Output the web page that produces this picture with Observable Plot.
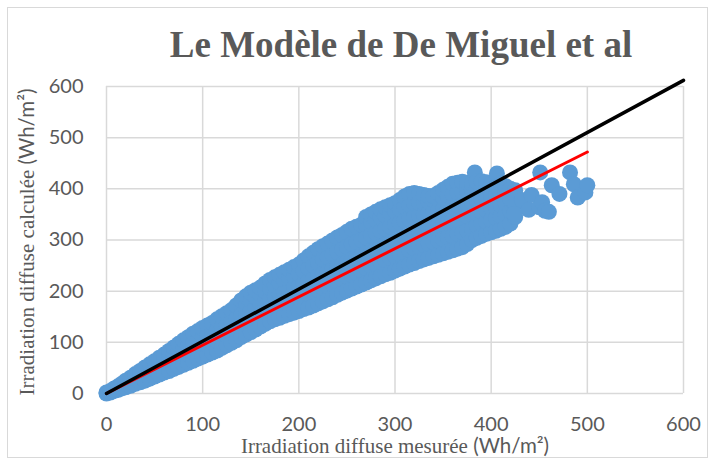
<!DOCTYPE html>
<html>
<head>
<meta charset="utf-8">
<script src="https://cdn.jsdelivr.net/npm/d3@7"></script>
<script src="https://cdn.jsdelivr.net/npm/@observablehq/plot@0.6"></script>
<style>
  html, body { margin: 0; padding: 0; background: #fff; }
  #wrap { position: relative; width: 708px; height: 458px; overflow: hidden; }
  #border { position: absolute; left: 7px; top: 7px; width: 699px; height: 449px; border: 1px solid #d9d9d9; pointer-events: none; }
</style>
</head>
<body>
<div id="wrap"><div id="border"></div></div>
<script>
const chartTitle = "Le Modèle de De Miguel et al";
const xTitleWords = "Irradiation diffuse mesurée ";
const yTitleWords = "Irradiation diffuse calculée ";
const unitText = "(Wh/m²)";
const xTicks = [0, 100, 200, 300, 400, 500, 600];
const yTicks = [0, 100, 200, 300, 400, 500, 600];

const scatter = [
  [0,0],[0,2],[4,2],[4,5],[8,5],[8,10],[12,7],[12,14],[16,10],[16,19],
  [20,12],[20,18],[20,25],[25,15],[25,23],[25,31],[30,19],[30,28],[30,38],
  [35,22],[35,33],[35,44],[40,25],[40,37],[40,51],[45,29],[45,42],[45,57],
  [50,33],[50,47],[50,63],[55,37],[55,52],[55,59],[55,70],[60,41],[60,55],[60,66],[60,76],
  [65,44],[65,58],[65,70],[65,83],[70,48],[70,62],[70,76],[70,90],[75,52],[75,67],[75,82],[75,97],
  [80,56],[80,71],[80,88],[80,104],[85,60],[85,76],[85,93],[85,110],[90,64],[90,81],[90,99],[90,117],
  [95,68],[95,86],[95,104],[95,122],[100,72],[100,90],[100,110],[100,128],[105,76],[105,94],[105,114],[105,133],
  [110,80],[110,99],[110,119],[110,138],[115,84],[115,103],[115,124],[115,145],[120,89],[120,108],[120,129],[120,151],
  [125,94],[125,113],[125,134],[125,157],[130,99],[130,118],[130,140],[130,163],[135,104],[135,124],[135,147],[135,172],
  [140,110],[140,130],[140,153],[140,182],[145,115],[145,135],[145,158],[145,177],[145,190],
  [150,120],[150,140],[150,162],[150,182],[150,197],[155,125],[155,146],[155,168],[155,188],[155,202],
  [160,131],[160,152],[160,175],[160,195],[160,207],[165,136],[165,158],[165,180],[165,200],[165,215],
  [170,141],[170,162],[170,185],[170,206],[170,222],[175,145],[175,167],[175,190],[175,212],[175,227],
  [180,148],[180,170],[180,194],[180,216],[180,232],[185,152],[185,175],[185,198],[185,221],[185,237],
  [190,155],[190,178],[190,202],[190,226],[190,242],[195,158],[195,182],[195,207],[195,230],[195,247],
  [200,161],[200,186],[200,210],[200,234],[200,252],[205,165],[205,190],[205,215],[205,240],[205,260],
  [210,168],[210,194],[210,220],[210,245],[210,268],[215,172],[215,198],[215,224],[215,250],[215,275],
  [220,176],[220,202],[220,230],[220,256],[220,282],[225,180],[225,206],[225,234],[225,262],[225,288],
  [230,184],[230,210],[230,238],[230,266],[230,293],[235,188],[235,214],[235,243],[235,272],[235,299],
  [240,193],[240,219],[240,248],[240,277],[240,305],[245,197],[245,224],[245,252],[245,282],[245,310],
  [250,201],[250,229],[250,257],[250,287],[250,316],[255,205],[255,232],[255,262],[255,292],[255,322],
  [260,209],[260,236],[260,266],[260,296],[260,326],[265,213],[265,240],[265,270],[265,300],[265,330],
  [270,217],[270,245],[270,275],[270,305],[270,330],[270,345],[275,221],[275,249],[275,279],[275,310],[275,335],[275,350],
  [280,225],[280,253],[280,283],[280,314],[280,340],[280,355],[285,229],[285,257],[285,287],[285,318],[285,345],[285,360],
  [290,233],[290,261],[290,291],[290,322],[290,348],[290,364],[295,236],[295,265],[295,295],[295,326],[295,352],[295,368],
  [300,240],[300,268],[300,298],[300,330],[300,356],[300,372],[305,244],[305,272],[305,302],[305,334],[305,360],[305,378],
  [310,248],[310,276],[310,306],[310,338],[310,365],[310,385],[315,252],[315,280],[315,310],[315,342],[315,368],[315,390],
  [320,255],[320,283],[320,313],[320,345],[320,372],[320,392],[325,259],[325,287],[325,317],[325,348],[325,372],[325,390],
  [330,262],[330,290],[330,320],[330,350],[330,372],[330,388],[335,265],[335,293],[335,323],[335,353],[335,375],[335,386],
  [340,268],[340,296],[340,326],[340,356],[340,378],[340,386],[345,271],[345,299],[345,329],[345,358],[345,380],[345,392],
  [350,274],[350,302],[350,332],[350,360],[350,383],[350,398],[355,277],[355,305],[355,335],[355,362],[355,387],[355,404],
  [360,280],[360,308],[360,338],[360,365],[360,390],[360,410],[365,283],[365,312],[365,340],[365,368],[365,393],[365,412],
  [370,286],[370,315],[370,343],[370,370],[370,395],[370,414],[375,292],[375,318],[375,346],[375,372],[375,396],[375,412],
  [380,300],[380,322],[380,349],[380,375],[380,398],[380,410],[383,432],
  [385,304],[385,328],[385,352],[385,378],[385,400],[385,414],[390,308],[390,332],[390,355],[390,380],[390,402],[390,415],
  [395,312],[395,336],[395,358],[395,383],[395,405],[395,413],[400,315],[400,340],[400,362],[400,386],[400,408],[406,430],
  [405,318],[405,343],[405,365],[405,388],[405,405],[410,322],[410,346],[410,368],[410,390],[410,410],
  [415,326],[415,350],[415,372],[415,394],[415,405],[420,332],[420,356],[420,380],[420,400],[425,345],[425,370],[425,397],
  [432,378],[439,359],[424,351],[442,388],[450,364],[453,374],[456,357],[460,355],[451,432],[463,407],
  [471,390],[482,432],[486,409],[490,383],[498,393],[500,407]
];

// fitted line (red) and reference line (black)
const fitX = [0, 500];
const fitY = [0, 472];
const refX = [0, 600];
const refY = [0, 612];

const fit = fitX.map((x, i) => ({x, y: fitY[i]}));
const ref = refX.map((x, i) => ({x, y: refY[i]}));

const chart = Plot.plot({
  width: 708,
  height: 458,
  marginLeft: 106,
  marginRight: 25,
  marginTop: 86,
  marginBottom: 65,
  x: {domain: [0, 600], ticks: xTicks},
  y: {domain: [0, 600], ticks: yTicks},
  style: {fontFamily: "Lato", fontSize: "20px", color: "#595959", background: "transparent", overflow: "visible"},
  marks: [
    Plot.gridX(xTicks, {stroke: "#d9d9d9", strokeOpacity: 1, strokeWidth: 1.5}),
    Plot.gridY(yTicks, {stroke: "#d9d9d9", strokeOpacity: 1, strokeWidth: 1.5}),
    Plot.axisX(xTicks, {tickSize: 0, tickPadding: 23, label: null, fill: "#595959"}),
    Plot.axisY(yTicks, {tickSize: 0, tickPadding: 23, label: null, fill: "#595959"}),
    Plot.dot(scatter, {x: d => d[0], y: d => d[1], r: 8, fill: "#5b9bd5", stroke: "none"}),
    Plot.line(fit, {x: "x", y: "y", stroke: "#ff0000", strokeWidth: 3}),
    Plot.line(ref, {x: "x", y: "y", stroke: "#000000", strokeWidth: 3.5})
  ]
});
chart.style.position = "absolute";
chart.style.left = "0px";
chart.style.top = "0px";
document.getElementById("wrap").prepend(chart);

const svg = d3.select(chart);
svg.append("text")
  .attr("x", 401).attr("y", 57)
  .attr("text-anchor", "middle")
  .attr("font-family", "Liberation Serif")
  .attr("font-weight", "bold")
  .attr("font-size", 37)
  .attr("fill", "#595959")
  .text(chartTitle);

const xt = svg.append("text")
  .attr("x", 395).attr("y", 453)
  .attr("text-anchor", "middle")
  .attr("fill", "#595959");
xt.append("tspan").attr("font-family", "Liberation Serif").attr("font-size", 21).text(xTitleWords);
xt.append("tspan").attr("font-family", "Lato").attr("font-size", 20.5).text(unitText);

const yt = svg.append("text")
  .attr("transform", "translate(34,242) rotate(-90)")
  .attr("text-anchor", "middle")
  .attr("fill", "#595959");
yt.append("tspan").attr("font-family", "Liberation Serif").attr("font-size", 21).text(yTitleWords);
yt.append("tspan").attr("font-family", "Lato").attr("font-size", 20.5).text(unitText);
</script>
</body>
</html>
